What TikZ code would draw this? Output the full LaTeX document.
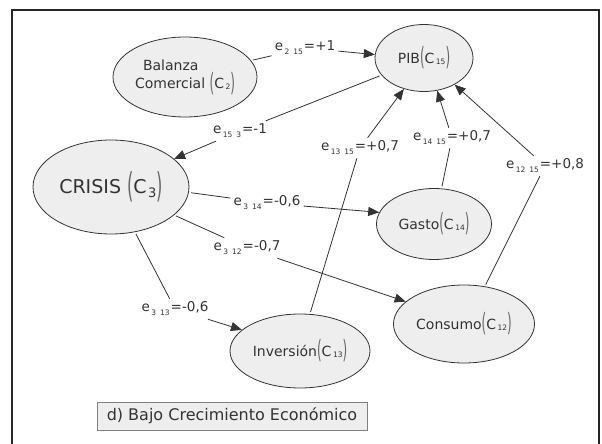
\documentclass[tikz,border=0pt]{standalone}
\usepackage{fontspec}
\setmainfont{DejaVu Sans}
\usepackage{graphicx}
\usetikzlibrary{shapes.geometric,arrows.meta}
\definecolor{txtgray}{HTML}{333333}
\definecolor{ellfill}{HTML}{EEEEEE}
\newcommand{\bigpar}[1]{\raisebox{-0.2em}{\scalebox{0.85}[1.8]{\color{txtgray!75}#1}}}
\newcommand{\cc}[3][7.5]{\bigpar{(}C\hspace{1.5pt}\raisebox{#3}{\fontsize{#1}{#1}\selectfont #2}\bigpar{)}}
\newcommand{\ee}[3]{e\hspace{1.5pt}\raisebox{-4pt}{\fontsize{7.5}{7.5}\selectfont #1\hspace{4pt}#2}\hspace{1pt}=#3}

\begin{document}
\begin{tikzpicture}[x=1pt, y=-1pt,
	ell/.style={ellipse, draw=txtgray, fill=ellfill, line width=0.8pt, inner sep=0pt, align=center, text=txtgray, font=\fontsize{14}{18}\selectfont},
	lab/.style={inner sep=3pt, text=txtgray, font=\fontsize{13.5}{15}\selectfont},
	conn/.style={draw=txtgray, line width=0.8pt, shorten <=2pt},
	arr/.style={conn, shorten <=0pt, -{Triangle[length=11pt,width=9pt]}}]
	\useasboundingbox (0,0) rectangle (602,444);
	\draw[line width=1.8pt, black!85] (12,444) -- (12,10) -- (599,10) -- (599,444);
	\node[ell, align=left, minimum width=144, minimum height=80] (bal) at (185,77) {\hspace{8pt}Balanza\\Comercial \cc{2}{-1pt}};
	\node[ell, minimum width=98, minimum height=67] (pib) at (424,58) {PIB\cc{15}{-1pt}};
	\node[ell, minimum width=156, minimum height=94, font=\fontsize{19}{24}\selectfont] (cri) at (111,187) {CRISIS \cc[13]{3}{-4pt}};
	\node[ell, minimum width=115, minimum height=71] (gas) at (434,224) {Gasto\cc{14}{-1pt}};
	\node[ell, minimum width=141, minimum height=78] (con) at (464,324) {Consumo\cc{12}{-1pt}};
	\node[ell, minimum width=140, minimum height=74] (inv) at (300,351) {Inversión\cc{13}{-1pt}};
	\node[lab] (l215) at (305,48) {\ee{2}{15}{+1}};
	\node[lab] (l153) at (240,131) {\ee{15}{3}{-1}};
	\node[lab] (l314) at (267,203) {\ee{3}{14}{-0,6}};
	\node[lab] (l312) at (247,248) {\ee{3}{12}{-0,7}};
	\node[lab] (l313) at (175,309) {\ee{3}{13}{-0,6}};
	\node[lab] (l1315) at (360,148) {\ee{13}{15}{+0,7}};
	\node[lab] (l1415) at (452,138) {\ee{14}{15}{+0,7}};
	\node[lab] (l1215) at (545,166) {\ee{12}{15}{+0,8}};
	\draw[conn] (bal.14) -- (l215); \draw[arr] (l215) -- (pib.176);
	\draw[conn] (pib.202) -- (l153); \draw[arr] (l153) -- (cri.24);
	\draw[conn] (cri.-4) -- (l314); \draw[arr] (l314) -- (gas.168);
	\draw[conn] (cri.-24) -- (l312); \draw[arr] (l312) -- (con.159);
	\draw[conn] (cri.-62) -- (l313); \draw[arr] (l313) -- (inv.160);
	\draw[conn] (inv.75) -- (l1315); \draw[arr] (l1315) -- (pib.237);
	\draw[conn] (gas.78) -- (l1415); \draw[arr] (l1415) -- (pib.292);
	\draw[conn] (con.61) -- (l1215); \draw[arr] (l1215) -- (pib.-41);
	\node[draw=gray, fill=ellfill, line width=0.8pt, inner sep=3pt, text=txtgray, font=\fontsize{16}{18}\selectfont, minimum width=270, minimum height=28] (cap) at (232,416) {d) Bajo Crecimiento Económico};
\end{tikzpicture}
\end{document}
